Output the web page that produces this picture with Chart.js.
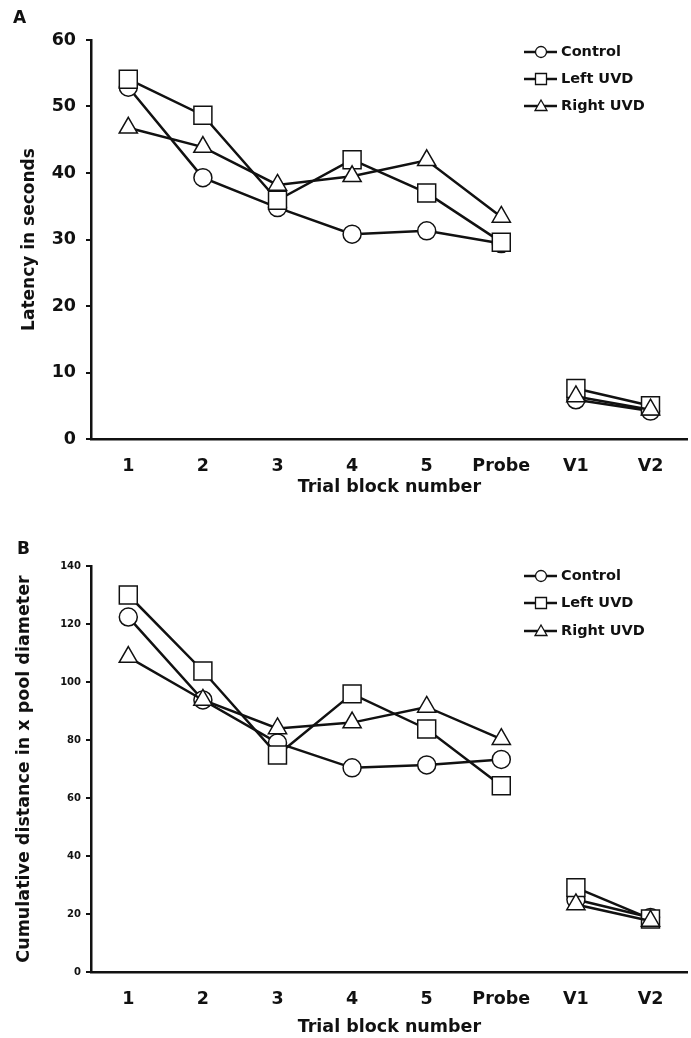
<!DOCTYPE html>
<html>
<head>
<meta charset="utf-8">
<script src="https://cdn.jsdelivr.net/npm/chart.js@4.4.0/dist/chart.umd.min.js"></script>
<style>
  body { margin: 0; background: #fff; }
  #wrap { position: relative; width: 691px; height: 1038px; overflow: hidden; }
  canvas { position: absolute; left: 0; }
  .panel { position: absolute; font: bold 17px "DejaVu Sans", sans-serif; color: #111; }
</style>
</head>
<body>
<div id="wrap">
  <!-- canvases are a bit wider than the page so the axis reaches the right edge -->
  <canvas id="chartA" width="702" height="505" style="top:0"></canvas>
  <canvas id="chartB" width="702" height="523" style="top:515px"></canvas>
  <div class="panel" style="left:13px; top:7px">A</div>
  <div class="panel" style="left:17px; top:538px">B</div>
</div>
<script>
const blocks = ['1', '2', '3', '4', '5', 'Probe', 'V1', 'V2'];
const groups = ['Control', 'Left UVD', 'Right UVD'];

// panel A: latency (s)
const latControl = [52.9, 39.3, 34.8, 30.8, 31.3, 29.4, 5.9, 4.2];
const latLeft    = [54.1, 48.7, 35.9, 42.0, 37.0, 29.6, 7.6, 5.0];
const latRight   = [46.8, 43.9, 38.2, 39.5, 41.9, 33.4, 6.4, 4.4];

// panel B: cumulative distance
const distControl = [122.4, 93.8, 79.0, 70.4, 71.4, 73.3, 25.0, 18.8];
const distLeft    = [130.0, 103.8, 74.8, 95.9, 83.8, 64.2, 29.1, 18.3];
const distRight   = [108.6, 93.8, 84.0, 86.0, 91.4, 80.3, 23.3, 17.6];

const ink = '#111';
const styles = ['circle', 'rect', 'triangle'];
const radii = [9, 12.7, 10.5];
const font = 'DejaVu Sans';

function makeSets(arrs) {
  return arrs.map((d, i) => ({
    label: groups[i],
    data: d,
    order: 2 - i,   // triangles on top, circles underneath
    borderColor: ink,
    borderWidth: 2.5,
    pointStyle: styles[i],
    pointRadius: radii[i],
    pointBorderWidth: 1.5,
    pointBackgroundColor: '#fff',
    pointBorderColor: ink,
    tension: 0,
    // no line between Probe and V1
    segment: { borderColor: ctx => ctx.p0DataIndex === 5 ? 'rgba(0,0,0,0)' : ink }
  }));
}

function legendPlugin(rows) {
  return {
    id: 'lineLegend',
    afterDraw(chart) {
      const ctx = chart.ctx;
      ctx.save();
      rows.forEach((y, i) => {
        ctx.strokeStyle = ink;
        ctx.lineWidth = 2.5;
        ctx.beginPath();
        ctx.moveTo(524, y);
        ctx.lineTo(557, y);
        ctx.stroke();
        ctx.fillStyle = '#fff';
        ctx.lineWidth = 1.3;
        ctx.beginPath();
        const cx = 541;
        if (i === 0) ctx.arc(cx, y, 5.5, 0, Math.PI * 2);
        if (i === 1) ctx.rect(cx - 5.5, y - 5.5, 11, 11);
        if (i === 2) { ctx.moveTo(cx, y - 6); ctx.lineTo(cx + 6, y + 4.5); ctx.lineTo(cx - 6, y + 4.5); ctx.closePath(); }
        ctx.fill();
        ctx.stroke();
        ctx.fillStyle = ink;
        ctx.font = 'bold 14.5px "' + font + '"';
        ctx.textBaseline = 'middle';
        ctx.fillText(groups[i], 561, y);
      });
      ctx.restore();
    }
  };
}

function makeChart(id, arrs, opt) {
  return new Chart(document.getElementById(id), {
    type: 'line',
    data: { labels: blocks, datasets: makeSets(arrs) },
    options: {
      responsive: false,
      animation: false,
      devicePixelRatio: 1,
      layout: { padding: { top: opt.padTop, right: 3, left: 0, bottom: 0 } },
      plugins: { legend: { display: false }, tooltip: { enabled: false } },
      scales: {
        x: {
          type: 'category',
          offset: true,
          grid: { display: false },
          border: { color: ink, width: 2.5 },
          ticks: { color: ink, padding: 9, font: { family: font, weight: 'bold', size: 17.5 } },
          title: { display: true, text: 'Trial block number', color: ink, padding: { top: 0, bottom: opt.xTitlePad },
                   font: { family: font, weight: 'bold', size: 17.5, lineHeight: 1.2 } },
          afterFit: s => { s.height = 66; }
        },
        y: {
          min: 0,
          max: opt.yMax,
          ticks: { stepSize: opt.step, color: ink, padding: opt.tickPad, font: { family: font, weight: 'bold', size: opt.tickSize } },
          grid: { drawOnChartArea: false, drawTicks: true, tickLength: 5, color: ink, lineWidth: 2 },
          border: { color: ink, width: 2.5 },
          title: { display: true, text: opt.yTitle, color: ink, padding: { top: opt.yTitlePad, bottom: 0 },
                   font: { family: font, weight: 'bold', size: opt.yTitleSize, lineHeight: 1.2 } },
          afterFit: s => { s.width = 91; }
        }
      }
    },
    plugins: [legendPlugin(opt.legendRows)]
  });
}

makeChart('chartA', [latControl, latLeft, latRight], {
  padTop: 40, yMax: 60, step: 10, tickPad: 10, tickSize: 17.5,
  yTitle: 'Latency in seconds', yTitleSize: 17, yTitlePad: 19, xTitlePad: 7,
  legendRows: [52, 79, 106]
});

makeChart('chartB', [distControl, distLeft, distRight], {
  padTop: 51, yMax: 140, step: 20, tickPad: 5, tickSize: 10,
  yTitle: 'Cumulative distance in x pool diameter', yTitleSize: 17.5, yTitlePad: 14, xTitlePad: 0,
  legendRows: [61, 88, 116]
});
</script>
</body>
</html>
